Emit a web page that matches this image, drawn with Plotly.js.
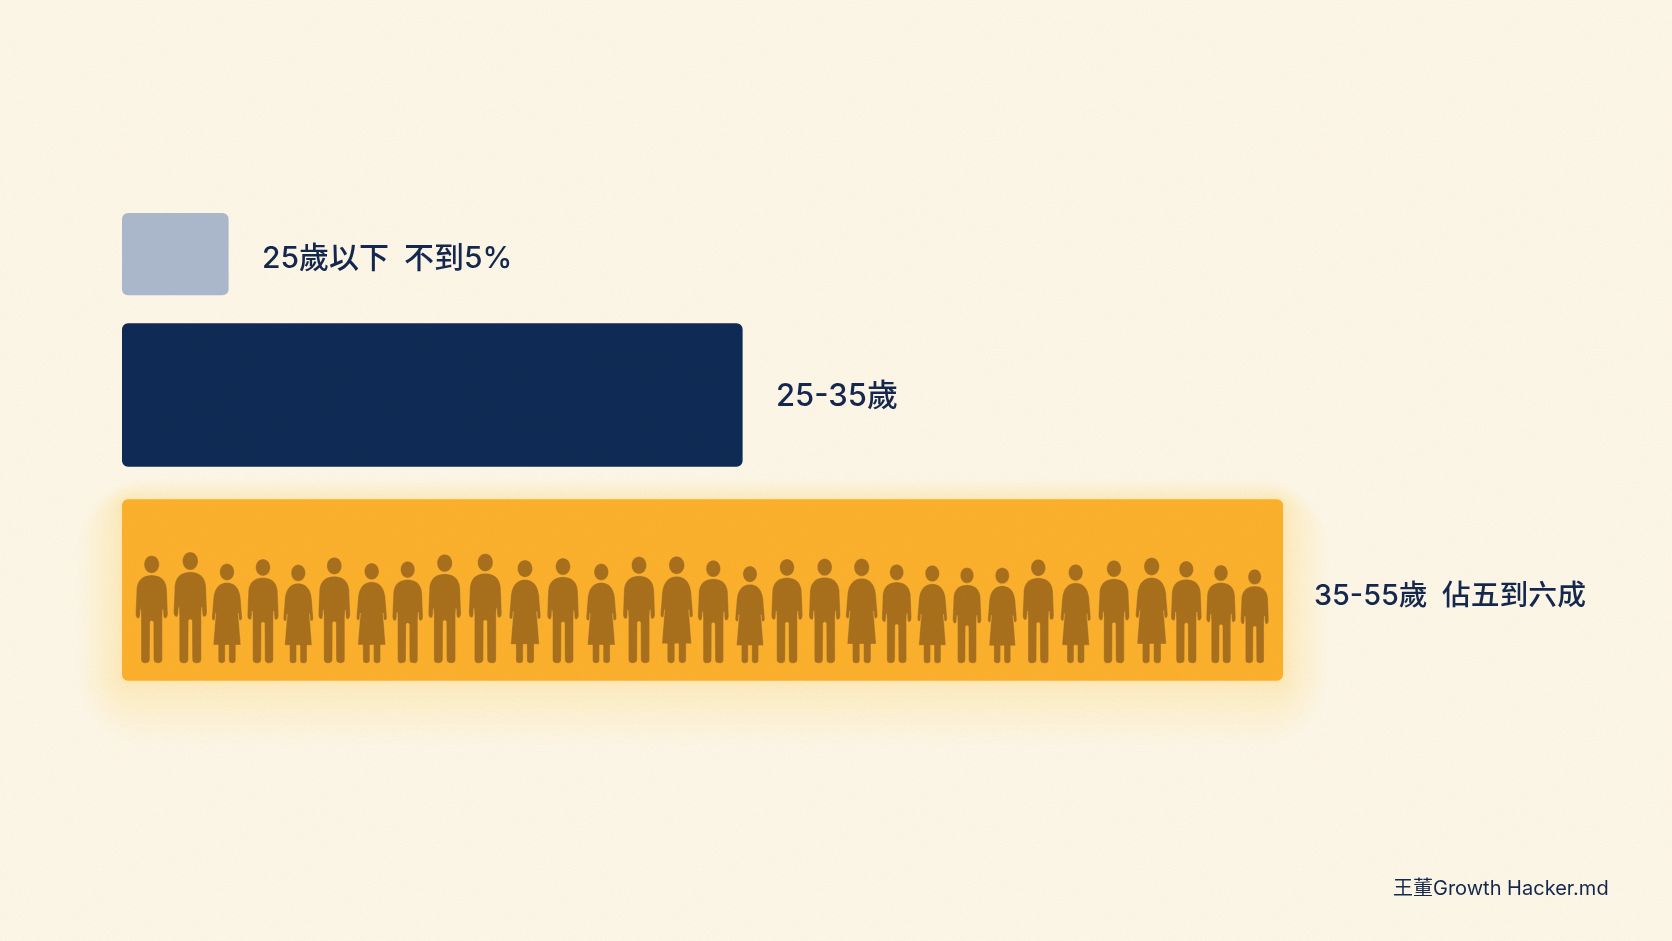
<!DOCTYPE html>
<html>
<head>
<meta charset="utf-8">
<script src="https://cdn.plot.ly/plotly-3.0.1.min.js"></script>
<style>
html,body{margin:0;padding:0;width:1672px;height:941px;overflow:hidden;background:#FEF8EA;}
#chart{position:absolute;left:0;top:0;width:1672px;height:941px;}
#grain{position:absolute;left:0;top:0;width:1672px;height:941px;pointer-events:none;opacity:.08;mix-blend-mode:multiply;
background-image:url("data:image/svg+xml;utf8,<svg xmlns='http://www.w3.org/2000/svg' width='600' height='600'><filter id='n'><feTurbulence type='fractalNoise' baseFrequency='0.55' numOctaves='3' seed='7'/><feColorMatrix values='0 0 0 0 0.45 0 0 0 0 0.36 0 0 0 0 0.2 0.9 0 0 0 0'/></filter><rect width='600' height='600' filter='url(%23n)'/></svg>");}
</style>
</head>
<body>
<div id="chart"></div>
<div id="grain"></div>
<script>
// ---- data ----
const categories = ['25歲以下', '25-35歲', '35-55歲'];
const shares = [5.05, 29.4, 55];
const barStart = [0, 0, 0];
const barLabels = ['25歲以下\u2002不到5%', '25-35歲', '35-55歲\u2002佔五到六成'];
const credit = '王董Growth Hacker.md';
// one figure per person inside the last bar: M = trousers, F = dress
const peopleKinds = ['M','M','F','M','F','M','F','M','M','M','F','M','F','M','F','M','F','M','M','F','M','F','M','F','M','F','M','F','M','M','M'];

// ---- layout and style (pixels of the 1672x941 page) ----
const W = 1672, H = 941, X0 = 122, PX_PER_UNIT = 1161 / 55;
const rowCenters = [254.2, 395, 590];
const rowThickness = [82.3, 143.4, 181.4];
const barColors = ['#ACB9CF', '#0F2A55', '#FCB12D'];
const ink = '#14284F';
const figureColor = '#A9701C';
const labelSizes = [30, 31, 28.8];
const labelShift = [-3, 1, -4];
const labelGap = [31, 31, 29];
const peopleCx = [151.7,190.3,227,263,298.3,334.3,371.7,407.7,444.7,485.3,525,563,601.3,639,676.7,713.3,750,787,824.7,861.7,896.7,932.3,967,1002.3,1038.3,1075.7,1114,1151.7,1186.3,1221,1254.7];
const peopleTop = [555.7,552,563.7,559,564.7,557.3,563,561.3,554.3,553.7,560,558,563.7,556.7,556.3,560.3,566,559,558.7,558.7,564.3,565.3,567.7,567.7,559.3,564.3,560.3,557.7,561,565,569.3];
const FOOT = 663.3;

const px2x = p => (p - X0) / PX_PER_UNIT;

// silhouettes: command lists in page pixels relative to centre / foot
const manRight = [
 ['M',0,-88.4],['C',7,-88.4,14,-85,15.2,-75],['L',16.2,-49.5],['C',16.2,-46,14.4,-44.6,13.2,-44.8],
 ['C',12,-45,11.6,-47,11.5,-49],['L',11.2,-54],['L',10.7,-47],['L',10.7,-3.8],['C',10.7,-1.2,9,0,6.6,0],
 ['C',3.6,0,1.8,-1.2,1.8,-4],['L',1.6,-41.5],['L',0,-42.5]
];
const womanRight = [
 ['M',0,-81],['C',7,-81,12.5,-76,13.6,-66],['L',15.2,-46],['C',15.4,-43.5,13.8,-42.4,12.8,-42.8],
 ['C',12,-43.2,11.6,-44.5,11.6,-46.5],['L',11.3,-50],['L',13.8,-18.3],['L',8.8,-18.3],['L',8.8,-3.2],
 ['C',8.8,-1,7.4,0,5.3,0],['C',3.2,0,1.8,-1,1.8,-3.2],['L',1.8,-18.3],['L',0,-18.3]
];
const templates = {
  M:{h:107.6,right:manRight,head:{cy:-98.9,rx:7.6,ry:8.8}},
  F:{h:99.7,right:womanRight,head:{cy:-91.4,rx:7.3,ry:8.4}}
};
function figurePath(kind, cx, top){
  const t = templates[kind], s = (FOOT - top) / t.h;
  const X = u => px2x(cx + u*s).toFixed(4), Y = v => (FOOT + v*s).toFixed(2);
  let d = '';
  t.right.forEach(seg => {
    d += seg[0];
    for(let i=1;i<seg.length;i+=2) d += (i>1?' ':'') + X(seg[i]) + ',' + Y(seg[i+1]);
  });
  const pts = t.right;
  for(let i=pts.length-1;i>0;i--){
    const seg = pts[i], prev = pts[i-1];
    const endX = prev[prev.length-2], endY = prev[prev.length-1];
    if(seg[0]==='L'){ d += 'L'+X(-endX)+','+Y(endY); }
    else { d += 'C'+X(-seg[3])+','+Y(seg[4])+' '+X(-seg[1])+','+Y(seg[2])+' '+X(-endX)+','+Y(endY); }
  }
  d += 'Z';
  const h = t.head, k = 0.5523;
  const hx = (a) => X(a), hy = (b) => Y(h.cy + b);
  d += 'M'+hx(0)+','+hy(-h.ry)
    +'C'+hx(k*h.rx)+','+hy(-h.ry)+' '+hx(h.rx)+','+hy(-k*h.ry)+' '+hx(h.rx)+','+hy(0)
    +'C'+hx(h.rx)+','+hy(k*h.ry)+' '+hx(k*h.rx)+','+hy(h.ry)+' '+hx(0)+','+hy(h.ry)
    +'C'+hx(-k*h.rx)+','+hy(h.ry)+' '+hx(-h.rx)+','+hy(k*h.ry)+' '+hx(-h.rx)+','+hy(0)
    +'C'+hx(-h.rx)+','+hy(-k*h.ry)+' '+hx(-k*h.rx)+','+hy(-h.ry)+' '+hx(0)+','+hy(-h.ry)+'Z';
  return d;
}
function roundedRect(x0px, x1px, y0, y1, r){
  const X = p => px2x(p).toFixed(4);
  const c = r*0.45;
  return 'M'+X(x0px+r)+','+y0+' L'+X(x1px-r)+','+y0
    +' C'+X(x1px-c)+','+y0+' '+X(x1px)+','+(y0+c)+' '+X(x1px)+','+(y0+r)
    +' L'+X(x1px)+','+(y1-r)
    +' C'+X(x1px)+','+(y1-c)+' '+X(x1px-c)+','+y1+' '+X(x1px-r)+','+y1
    +' L'+X(x0px+r)+','+y1
    +' C'+X(x0px+c)+','+y1+' '+X(x0px)+','+(y1-c)+' '+X(x0px)+','+(y1-r)
    +' L'+X(x0px)+','+(y0+r)
    +' C'+X(x0px)+','+(y0+c)+' '+X(x0px+c)+','+y0+' '+X(x0px+r)+','+y0+' Z';
}

const shapes = [];
// soft glow behind the last bar
const glowTop = rowCenters[2] - rowThickness[2]/2, glowBottom = rowCenters[2] + rowThickness[2]/2;
const glowRight = X0 + shares[2]*PX_PER_UNIT;
const GLOW_STEPS = 14;
for(let n=GLOW_STEPS;n>=1;n--){
  const e = 2 + 66*Math.pow(n/GLOW_STEPS,1.7);
  shapes.push({type:'path',layer:'below',xref:'x',yref:'y',
    path:roundedRect(X0-e*0.65, glowRight+e*0.65, glowTop-e*0.3, glowBottom+e*0.95, e*0.9+8),
    fillcolor:'#F9C04A',opacity:0.022,line:{width:0}});
}
peopleKinds.forEach((k,i)=>{
  shapes.push({type:'path',layer:'above',xref:'x',yref:'y',
    path:figurePath(k,peopleCx[i],peopleTop[i]),
    fillcolor:figureColor,line:{color:'rgba(253,190,75,0.45)',width:0.8}});
});

const annotations = barLabels.map((t,i)=>({
  xref:'x',yref:'y',x:shares[i],y:rowCenters[i],xshift:labelGap[i],yshift:labelShift[i],
  xanchor:'left',yanchor:'middle',showarrow:false,text:t,
  font:{family:'Inter,"Noto Sans CJK TC"',size:labelSizes[i],weight:500,color:ink}
}));
annotations.push({xref:'paper',yref:'paper',x:1611/W,y:1-888/H,xanchor:'right',yanchor:'middle',showarrow:false,
  text:credit,font:{family:'Inter,"Noto Sans CJK TC"',size:20,color:ink}});

Plotly.newPlot('chart',[{
  type:'bar',orientation:'h',
  x:shares,y:rowCenters,base:barStart,width:rowThickness,
  customdata:categories,
  marker:{color:barColors,line:{width:0}},
  hoverinfo:'skip',showlegend:false
}],{
  width:W,height:H,
  margin:{l:0,r:0,t:0,b:0,pad:0},
  paper_bgcolor:'rgba(0,0,0,0)',plot_bgcolor:'rgba(0,0,0,0)',
  barcornerradius:6,
  showlegend:false,
  xaxis:{range:[px2x(0),px2x(W)],visible:false,fixedrange:true},
  yaxis:{range:[H,0],visible:false,fixedrange:true},
  shapes:shapes,annotations:annotations
},{displayModeBar:false,staticPlot:true});
</script>
</body>
</html>
